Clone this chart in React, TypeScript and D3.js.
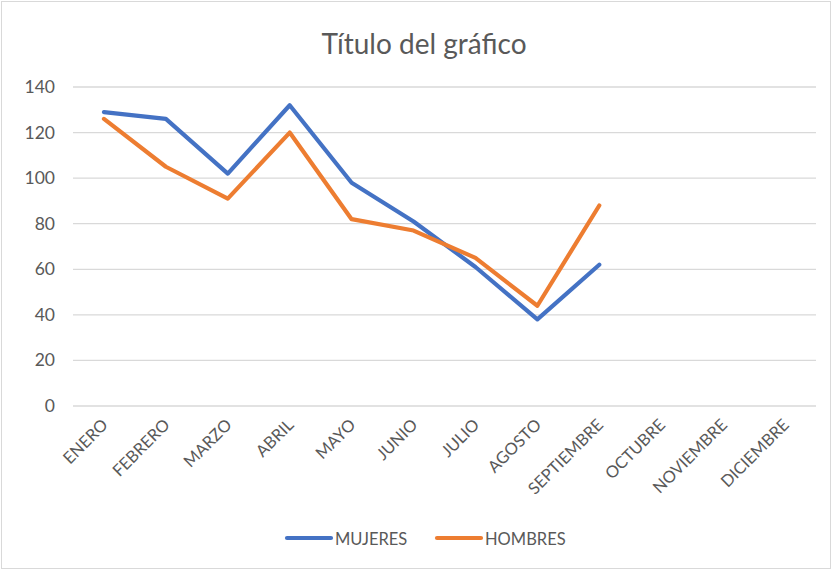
import React from "react";
import * as d3 from "d3";

const months = ["ENERO","FEBRERO","MARZO","ABRIL","MAYO","JUNIO","JULIO","AGOSTO","SEPTIEMBRE","OCTUBRE","NOVIEMBRE","DICIEMBRE"];
const mujeres: (number | null)[] = [129,126,102,132,98,81,61,38,62,null,null,null];
const hombres: (number | null)[] = [126,105,91,120,82,77,65,44,88,null,null,null];
const yTicks = [0,20,40,60,80,100,120,140];
const seriesNames = ["MUJERES","HOMBRES"];
const colors = ["#4472C4","#ED7D31"];

const W = 833, H = 571;
const FONT = "Lato, 'Open Sans', sans-serif";

export default function App() {
  const x = d3.scaleBand<string>().domain(months).range([73, 816]);
  const y = d3.scaleLinear().domain([0, 140]).range([406, 87]);
  const line = d3.line<number | null>()
    .defined(d => d != null)
    .x((_, i) => (x(months[i]) as number) + x.bandwidth() / 2)
    .y(d => y(d as number));
  const data = [mujeres, hombres];
  const legendX = [287, 437];
  return (
    <svg width={W} height={H} style={{ position: "absolute", left: 0, top: 0, background: "#fff" }}>
      <rect x={1.5} y={1.5} width={W - 4} height={H - 4} fill="#fff" stroke="#d9d9d9" />
      <text x={424} y={54} textAnchor="middle" fontFamily={FONT} fontSize={28} fill="#595959">Título del gráfico</text>
      {yTicks.map(t => (
        <g key={t}>
          <line x1={73} x2={816} y1={y(t)} y2={y(t)} stroke="#d9d9d9" strokeWidth={1.3} />
          <text x={55} y={y(t) + 6} textAnchor="end" fontFamily={FONT} fontSize={17.5} fill="#595959">{t}</text>
        </g>
      ))}
      {months.map(m => {
        const cx = (x(m) as number) + x.bandwidth() / 2;
        return (
          <text key={m} transform={`translate(${cx + 5},${426}) rotate(-45)`} textAnchor="end" fontFamily={FONT} fontSize={16.5} fill="#595959">{m}</text>
        );
      })}
      {data.map((d, i) => (
        <path key={i} d={line(d) || ""} fill="none" stroke={colors[i]} strokeWidth={4.2} strokeLinejoin="round" strokeLinecap="round" />
      ))}
      {seriesNames.map((s, i) => (
        <g key={s}>
          <line x1={legendX[i]} x2={legendX[i] + 44} y1={538} y2={538} stroke={colors[i]} strokeWidth={4.2} strokeLinecap="round" />
          <text x={legendX[i] + 48} y={544.5} fontFamily={FONT} fontSize={16.5} fill="#595959">{s}</text>
        </g>
      ))}
    </svg>
  );
}
